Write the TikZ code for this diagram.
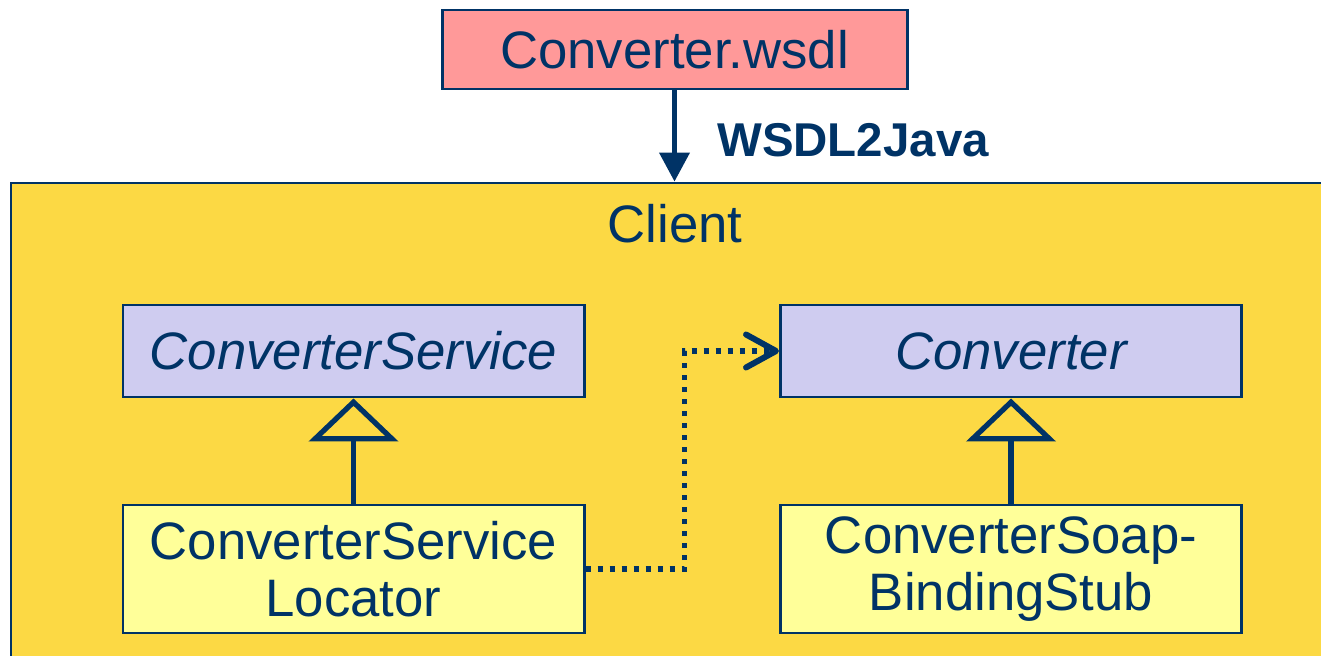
\documentclass[tikz,border=0pt]{standalone}
\usepackage{fontspec}
\setmainfont{Liberation Sans}
\usetikzlibrary{arrows.meta}
\definecolor{navy}{RGB}{0,51,102}
\definecolor{wsdlpink}{RGB}{255,153,153}
\definecolor{gold}{RGB}{252,217,68}
\definecolor{lilac}{RGB}{207,204,240}
\definecolor{paleyellow}{RGB}{255,255,153}
\begin{document}
\begin{tikzpicture}[
  box/.style={draw=navy,line width=1.7pt,text=navy,inner sep=0pt,minimum width=9.22cm,align=center,font=\fontsize{30}{32.4}\selectfont},
  iface/.style={box,fill=lilac,minimum height=1.84cm,font=\fontsize{30}{32.4}\selectfont\itshape},
  impl/.style={box,fill=paleyellow,minimum height=2.56cm},
  inherit/.style={draw=navy,line width=3pt,-{Triangle[open,length=0.86cm,width=1.78cm,line width=3pt]}},
  uses/.style={draw=navy,line width=3pt,dash pattern=on 0.1cm off 0.14cm,-{Straight Barb[length=0.6cm,width=0.66cm,round,line width=3.4pt]}}]
\useasboundingbox (0,0) rectangle (26.42,13.1);
% client package
\node[draw=navy,line width=1.7pt,fill=gold,minimum width=26.58cm,minimum height=9.84cm,inner sep=0pt](client)at(13.51,4.52){};
\node[text=navy,font=\fontsize{30}{32.4}\selectfont](clientname)at(13.5,8.62){Client};
% generator step
\node[box,fill=wsdlpink,minimum width=9.3cm,minimum height=1.58cm](wsdl)at(13.49,12.11){Converter.wsdl};
\node[anchor=west,text=navy,font=\fontsize{27}{30}\selectfont\bfseries](tool)at(14.22,10.3){WSDL2Java};
\draw[navy,line width=2.4pt,-{Triangle[length=0.58cm,width=0.6cm]}] (wsdl.south) -- (wsdl.south |- client.north);
% generated classes
\node[iface](service)at(7.07,6.08){ConverterService};
\node[iface](converter)at(20.22,6.08){Converter};
\node[impl](locator)at(7.07,1.72){ConverterService\\Locator};
\node[impl](stub)at(20.22,1.72){ConverterSoap-\\BindingStub};
\draw[inherit] (locator) -- (service);
\draw[inherit] (stub) -- (converter);
\draw[uses] (locator.east) -- ++(1.98,0) |- (converter.west);
\end{tikzpicture}
\end{document}
